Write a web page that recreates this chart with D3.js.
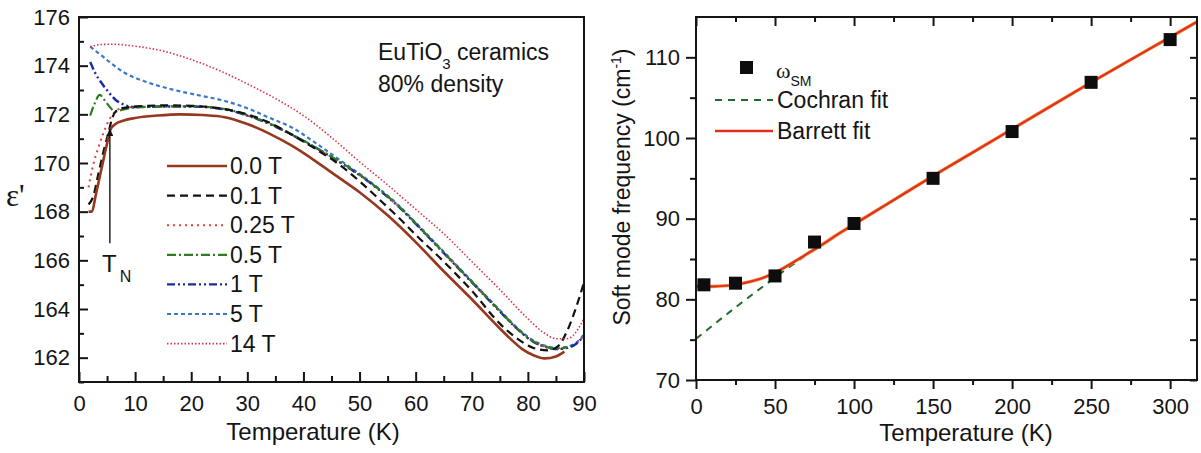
<!DOCTYPE html>
<html>
<head>
<meta charset="utf-8">
<script src="https://d3js.org/d3.v7.min.js"></script>
<style>
  body { margin: 0; background: #fff; }
  svg text { font-family: "Liberation Sans", Arial, sans-serif; fill: #141414; }
</style>
</head>
<body>
<div id="my_dataviz"></div>
<script>
// ---------- left panel: eps' vs temperature, one list of [T, eps'] per field ----------
var fieldLabels = ["0.0 T", "0.1 T", "0.25 T", "0.5 T", "1 T", "5 T", "14 T"];

var eps00 = [[1.7,168.0],[2.3,168.0],[3,168.7],[4,169.75],[5,170.8],[5.7,171.42],[6.5,171.6],[8,171.75],[10,171.85],
  [14,171.95],[18,172.0],[22,171.97],[26,171.88],[30,171.6],[34,171.2],[38,170.7],[42,170.1],[46,169.45],[50,168.8],
  [55,167.85],[60,166.75],[65,165.55],[70,164.4],[75,163.2],[77,162.75],[79,162.35],[81,162.1],[83,161.97],[85,162.05],[86.5,162.25]];
var eps01 = [[1.7,168.3],[2.5,168.6],[3.5,169.6],[4.5,170.6],[5.2,171.2],[6,171.9],[7,172.2],[9,172.3],[12,172.35],
  [16,172.37],[20,172.35],[25,172.25],[30,172.0],[34,171.65],[38,171.15],[42,170.6],[46,170.0],[50,169.25],[54,168.4],
  [57,167.75],[60,167.05],[65,165.95],[70,164.75],[75,163.4],[78,162.8],[81,162.4],[83.5,162.3],[85.5,162.5],[87,163.1],
  [88.5,164.0],[90,165.1]];
var eps025 = [[1.7,169.0],[2.5,169.9],[3.4,170.6],[4.3,171.2],[5.2,171.7],[6.2,172.05],[7.5,172.25],[10,172.3],[15,172.32],
  [20,172.32],[26,172.2],[30,171.95],[34,171.6],[38,171.15],[42,170.65],[46,170.1],[50,169.5],[54,168.8],[57,168.2],
  [60,167.5],[65,166.3],[70,165.1],[75,163.9],[78,163.2],[81,162.65],[83,162.45],[85,162.35],[87,162.4],[88.5,162.55],[90,162.9]];
var eps05 = [[2,171.95],[2.8,172.45],[3.7,172.8],[4.5,172.6],[5.5,172.3],[6.4,172.12],[8,172.2],[10,172.28],[15,172.32],
  [20,172.33],[26,172.22],[30,171.97],[34,171.62],[38,171.17],[42,170.67],[46,170.12],[50,169.52],[54,168.82],[57,168.22],
  [60,167.52],[65,166.32],[70,165.12],[75,163.92],[78,163.22],[81,162.67],[83,162.47],[85,162.37],[87,162.42]];
var eps1 = [[2,174.15],[3,173.65],[4,173.3],[5.2,172.93],[6.5,172.6],[8.2,172.38],[10,172.3],[15,172.32],[20,172.32],
  [26,172.2],[30,171.95],[34,171.6],[38,171.15],[42,170.65],[46,170.1],[50,169.5],[54,168.8],[57,168.2],[60,167.5],
  [65,166.3],[70,165.1],[75,163.9],[78,163.2],[81,162.65],[83,162.45],[85,162.35],[87,162.4],[88.5,162.55],[90,162.9]];
var eps5 = [[2,174.78],[3,174.6],[4,174.42],[6,174.05],[8.2,173.7],[12,173.33],[17,173.0],[22,172.75],[26,172.55],
  [30,172.25],[34,171.85],[38,171.45],[42,170.85],[46,170.2],[50,169.55],[54,168.85],[57,168.25],[60,167.55],
  [65,166.35],[70,165.15],[75,163.95],[78,163.25],[81,162.7],[83,162.5],[85,162.4],[87,162.45],[88.5,162.6],[90,162.95]];
var eps14 = [[2,174.78],[4,174.87],[6,174.88],[10,174.8],[15,174.6],[20,174.25],[25,173.8],[30,173.25],[35,172.65],
  [40,171.95],[45,171.05],[50,170.05],[55,169.1],[60,168.1],[65,167.1],[70,165.95],[75,164.8],[80,163.6],[83,163.0],
  [85,162.78],[87,162.78],[88,162.9],[89,163.2],[90,163.6]];

var epsSeries = [eps00, eps01, eps025, eps05, eps1, eps5, eps14];

var leftXTicks = [0, 10, 20, 30, 40, 50, 60, 70, 80, 90];
var leftXMinor = [5, 15, 25, 35, 45, 55, 65, 75, 85];
var leftYTicks = [162, 164, 166, 168, 170, 172, 174, 176];
var leftYMinor = [161, 163, 165, 167, 169, 171, 173, 175];

// ---------- right panel: soft mode frequency ----------
var tempSM = [5, 25, 50, 75, 100, 150, 200, 250, 300];
var omegaSM = [81.8, 82.0, 82.9, 87.1, 89.4, 95.0, 100.8, 106.9, 112.2];

var cochranT = [0, 25, 50, 75, 100, 150, 200, 250, 300, 317];
var cochranW = [75.1, 79.0, 82.7, 86.2, 89.3, 95.3, 101.1, 106.9, 112.5, 114.4];

var barrettT = [0, 10, 20, 30, 40, 50, 60, 70, 80, 90, 100, 125, 150, 175, 200, 250, 300, 317];
var barrettW = [81.6, 81.6, 81.7, 82.0, 82.5, 83.3, 84.4, 85.6, 86.8, 88.1, 89.3, 92.3, 95.3, 98.2, 101.1, 106.9, 112.5, 114.4];

var rightXTicks = [0, 50, 100, 150, 200, 250, 300];
var rightXMinor = [25, 75, 125, 175, 225, 275];
var rightYTicks = [70, 80, 90, 100, 110];
var rightYMinor = [75, 85, 95, 105];

// styles for the left-panel curves (same order as fieldLabels)
var curveStyle = [
  { color: "#96381f", dash: null, width: 2.6 },
  { color: "#111111", dash: "8,5", width: 2.2 },
  { color: "#e0403c", dash: "2,4", width: 2 },
  { color: "#2f7a22", dash: "9,3,2,3", width: 2.2 },
  { color: "#1c2c9c", dash: "8,3,2,3,2,3", width: 2.4 },
  { color: "#3b78c8", dash: "4,3", width: 2.2 },
  { color: "#e03048", dash: "1.5,2", width: 1.6 }
];
var drawOrder = [5, 2, 4, 3, 1, 0, 6];

var svg = d3.select("#my_dataviz")
  .append("svg")
  .attr("width", 1201)
  .attr("height", 453);

svg.append("rect").attr("width", 1201).attr("height", 453).attr("fill", "#fff");

function styleAxis(g, size) {
  g.select(".domain").remove();
  g.attr("font-size", size).attr("font-family", "Liberation Sans, Arial, sans-serif");
  g.selectAll(".tick line").attr("stroke", "#141414").attr("stroke-width", 2);
  g.selectAll(".tick text").attr("fill", "#141414");
}

// ================= LEFT PANEL =================
var x1 = d3.scaleLinear().domain([0, 90]).range([79, 584]);
var y1 = d3.scaleLinear().domain([161, 176]).range([382, 17]);

svg.append("clipPath").attr("id", "clipL")
  .append("rect").attr("x", 79).attr("y", 17).attr("width", 505).attr("height", 365);

var lineL = d3.line()
  .x(function(d) { return x1(d[0]); })
  .y(function(d) { return y1(d[1]); })
  .curve(d3.curveMonotoneX);

var curvesL = svg.append("g").attr("clip-path", "url(#clipL)");
drawOrder.forEach(function(i) {
  var s = curveStyle[i];
  curvesL.append("path")
    .datum(epsSeries[i])
    .attr("d", lineL)
    .attr("fill", "none")
    .attr("stroke", s.color)
    .attr("stroke-width", s.width)
    .attr("stroke-dasharray", s.dash);
});

// axes (ticks point inward)
svg.append("g").attr("transform", "translate(0,382)")
  .call(d3.axisBottom(x1).tickValues(leftXTicks).tickSize(-10).tickPadding(13))
  .call(function(g) { styleAxis(g, 22); });
svg.append("g").attr("transform", "translate(0,382)")
  .call(d3.axisBottom(x1).tickValues(leftXMinor).tickSize(-6).tickFormat(""))
  .call(function(g) { styleAxis(g, 22); });
svg.append("g").attr("transform", "translate(79,0)")
  .call(d3.axisLeft(y1).tickValues(leftYTicks).tickSize(-9).tickPadding(9))
  .call(function(g) { styleAxis(g, 22); });
svg.append("g").attr("transform", "translate(79,0)")
  .call(d3.axisLeft(y1).tickValues(leftYMinor).tickSize(-5).tickFormat(""))
  .call(function(g) { styleAxis(g, 22); });

svg.append("rect")
  .attr("x", x1(0)).attr("y", y1(176))
  .attr("width", x1(90) - x1(0)).attr("height", y1(161) - y1(176))
  .attr("fill", "none").attr("stroke", "#141414").attr("stroke-width", 2);

// legend
fieldLabels.forEach(function(lab, i) {
  var s = curveStyle[i];
  var yy = 166 + 29.6 * i;
  svg.append("line")
    .attr("x1", 167).attr("x2", 227).attr("y1", yy).attr("y2", yy)
    .attr("stroke", s.color).attr("stroke-width", s.width)
    .attr("stroke-dasharray", s.dash);
  svg.append("text").attr("x", 230).attr("y", yy + 8)
    .attr("font-size", 23).text(lab);
});

// sample label
var lab1 = svg.append("text").attr("x", 378).attr("y", 60).attr("font-size", 23);
lab1.append("tspan").text("EuTiO");
lab1.append("tspan").attr("font-size", 15).attr("dy", 9).text("3");
lab1.append("tspan").attr("dy", -9).text(" ceramics");
svg.append("text").attr("x", 378).attr("y", 92).attr("font-size", 23).text("80% density");

// T_N arrow
svg.append("defs").append("marker")
  .attr("id", "arrowHead").attr("viewBox", "0 0 10 10")
  .attr("refX", 10).attr("refY", 5)
  .attr("markerWidth", 7).attr("markerHeight", 7)
  .attr("markerUnits", "userSpaceOnUse")
  .attr("orient", "auto")
  .append("path").attr("d", "M0,0 L10,5 L0,10 z").attr("fill", "#141414");
svg.append("line")
  .attr("x1", x1(5.5)).attr("x2", x1(5.5))
  .attr("y1", y1(166.7)).attr("y2", y1(171.4))
  .attr("stroke", "#141414").attr("stroke-width", 1.4)
  .attr("marker-end", "url(#arrowHead)");
var tn = svg.append("text").attr("x", 102).attr("y", 272).attr("font-size", 24);
tn.append("tspan").text("T");
tn.append("tspan").attr("font-size", 16).attr("dx", 3).attr("dy", 10).text("N");

// axis titles
svg.append("text").attr("x", 6).attr("y", 206)
  .attr("font-size", 31).style("font-family", "Liberation Serif, serif").text("\u03b5'");
svg.append("text").attr("x", 313).attr("y", 440)
  .attr("text-anchor", "middle").attr("font-size", 24).text("Temperature (K)");

// ================= RIGHT PANEL =================
var x2 = d3.scaleLinear().domain([0, 317]).range([696, 1197]);
var y2 = d3.scaleLinear().domain([70, 115]).range([380, 17]);

svg.append("clipPath").attr("id", "clipR")
  .append("rect").attr("x", 696).attr("y", 17).attr("width", 501).attr("height", 363);

var cochran = cochranT.map(function(t, i) { return [t, cochranW[i]]; });
var barrett = barrettT.map(function(t, i) { return [t, barrettW[i]]; });

var lineR = d3.line()
  .x(function(d) { return x2(d[0]); })
  .y(function(d) { return y2(d[1]); })
  .curve(d3.curveMonotoneX);

var fitsR = svg.append("g").attr("clip-path", "url(#clipR)");
fitsR.append("path").datum(cochran).attr("d", lineR)
  .attr("fill", "none").attr("stroke", "#236b2a").attr("stroke-width", 2)
  .attr("stroke-dasharray", "7,6");
fitsR.append("path").datum(barrett).attr("d", lineR)
  .attr("fill", "none").attr("stroke", "#f08a3a").attr("stroke-width", 3.4);
fitsR.append("path").datum(barrett).attr("d", lineR)
  .attr("fill", "none").attr("stroke", "#e0301c").attr("stroke-width", 2);

svg.append("g").selectAll("rect")
  .data(tempSM)
  .enter()
  .append("rect")
  .attr("x", function(d) { return x2(d) - 6.5; })
  .attr("y", function(d, i) { return y2(omegaSM[i]) - 6.5; })
  .attr("width", 13).attr("height", 13)
  .attr("fill", "#0d0d0d");

// axes: bottom/left outward with labels, top/right inward mirrors
svg.append("g").attr("transform", "translate(0,380)")
  .call(d3.axisBottom(x2).tickValues(rightXTicks).tickSize(9).tickPadding(9))
  .call(function(g) { styleAxis(g, 22); });
svg.append("g").attr("transform", "translate(0,380)")
  .call(d3.axisBottom(x2).tickValues(rightXMinor).tickSize(5).tickFormat(""))
  .call(function(g) { styleAxis(g, 22); });
svg.append("g").attr("transform", "translate(0,17)")
  .call(d3.axisTop(x2).tickValues(rightXTicks).tickSize(-9).tickFormat(""))
  .call(function(g) { styleAxis(g, 22); });
svg.append("g").attr("transform", "translate(0,17)")
  .call(d3.axisTop(x2).tickValues(rightXMinor).tickSize(-5).tickFormat(""))
  .call(function(g) { styleAxis(g, 22); });
svg.append("g").attr("transform", "translate(696,0)")
  .call(d3.axisLeft(y2).tickValues(rightYTicks).tickSize(10).tickPadding(6))
  .call(function(g) { styleAxis(g, 22); });
svg.append("g").attr("transform", "translate(696,0)")
  .call(d3.axisLeft(y2).tickValues(rightYMinor).tickSize(6).tickFormat(""))
  .call(function(g) { styleAxis(g, 22); });
svg.append("g").attr("transform", "translate(1197,0)")
  .call(d3.axisRight(y2).tickValues(rightYTicks.concat(rightYMinor)).tickSize(-7).tickFormat(""))
  .call(function(g) { styleAxis(g, 22); });

svg.append("rect")
  .attr("x", x2(0)).attr("y", y2(115))
  .attr("width", x2(317) - x2(0)).attr("height", y2(70) - y2(115))
  .attr("fill", "none").attr("stroke", "#141414").attr("stroke-width", 2);

// legend
svg.append("rect").attr("x", 740).attr("y", 61).attr("width", 13).attr("height", 13).attr("fill", "#0d0d0d");
var om = svg.append("text").attr("x", 776).attr("y", 78);
om.append("tspan").attr("font-size", 22).style("font-family", "Liberation Serif, serif").text("\u03c9");
om.append("tspan").attr("font-size", 14).attr("dy", 8).text("SM");
svg.append("line").attr("x1", 715).attr("x2", 773).attr("y1", 100).attr("y2", 100)
  .attr("stroke", "#236b2a").attr("stroke-width", 2).attr("stroke-dasharray", "7,6");
svg.append("text").attr("x", 777).attr("y", 108).attr("font-size", 23).text("Cochran fit");
svg.append("line").attr("x1", 715).attr("x2", 773).attr("y1", 131).attr("y2", 131)
  .attr("stroke", "#e0301c").attr("stroke-width", 2.6);
svg.append("text").attr("x", 777).attr("y", 139).attr("font-size", 23).text("Barrett fit");

// axis titles
var yt = svg.append("text")
  .attr("transform", "translate(630,187) rotate(-90)")
  .attr("text-anchor", "middle").attr("font-size", 23);
yt.append("tspan").text("Soft mode frequency (cm");
yt.append("tspan").attr("font-size", 14).attr("dy", -9).text("-1");
yt.append("tspan").attr("dy", 9).text(")");
svg.append("text").attr("x", 966).attr("y", 441)
  .attr("text-anchor", "middle").attr("font-size", 24).text("Temperature (K)");
</script>
</body>
</html>
